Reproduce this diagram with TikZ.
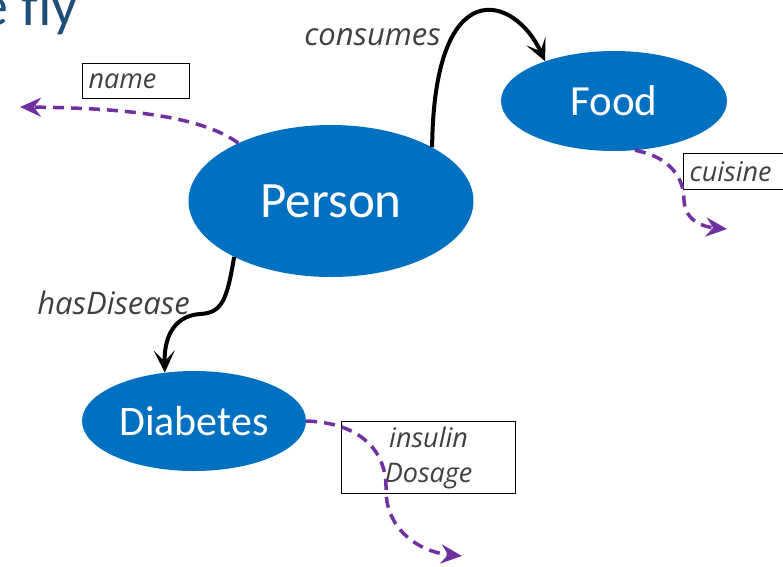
\documentclass[tikz,border=0pt]{standalone}
\usepackage{fontspec}
\setmainfont{Carlito}
\newfontfamily\labelfont{Open Sans}
\usetikzlibrary{shapes.geometric,arrows.meta}
\definecolor{conceptblue}{RGB}{0,112,192}
\definecolor{attrpurple}{RGB}{112,48,160}
\definecolor{labelgrey}{RGB}{64,64,64}
\definecolor{titleblue}{RGB}{31,78,121}

\begin{document}
\begin{tikzpicture}[x=1pt,y=1pt,yscale=-1,
  concept/.style={ellipse, fill=conceptblue, text=white, inner sep=0pt},
  attrbox/.style={draw=black, line width=1.2pt, text=labelgrey, inner ysep=0pt, font=\labelfont\itshape\fontsize{27}{35}\selectfont},
  rellabel/.style={text=labelgrey, inner sep=0pt, font=\labelfont\itshape\fontsize{31}{35}\selectfont},
  relarrow/.style={line width=4pt, -{Stealth[length=22pt,width=21pt,inset=11pt]}},
  attrarrow/.style={attrpurple, line width=3.5pt, dash pattern=on 11pt off 7pt, -{Stealth[length=21pt,width=19pt,inset=7pt]}}
]
\useasboundingbox (0,0) rectangle (783,566);

% Title (cut off)
\node [anchor=base west, inner sep=0pt, text=titleblue, font=\fontsize{58}{62}\selectfont] (title) at (-21,25) {e fly};

%Shape: Ellipse
\node [concept, minimum width=285, minimum height=152, font=\fontsize{51}{55}\selectfont] (person) at (331,201) {Person};
%Shape: Ellipse
\node [concept, minimum width=226, minimum height=100, font=\fontsize{43}{47}\selectfont] (food) at (614,101) {Food};
%Shape: Ellipse
\node [concept, minimum width=224, minimum height=100, font=\fontsize{42}{46}\selectfont] (diabetes) at (194,421) {Diabetes};

%Shape: Rectangle
\node [attrbox, anchor=north west, minimum height=35, text width=95, inner xsep=6pt, align=left] (name) at (82,63) {name};
\node [attrbox, anchor=north west, minimum height=36, text width=104, inner xsep=6pt, align=left] (cuisine) at (683,153) {cuisine};
\node [attrbox, anchor=north west, minimum height=72, minimum width=174, align=center] (dosage) at (341,421) {insulin\\Dosage};

% Free ends
\coordinate (nameend) at (20,107);
\coordinate (cuisineend) at (727,229);
\coordinate (dosageend) at (462,556);

%Curve Lines
\draw [relarrow] (person.28) .. controls (434,-30) and (515,-5) .. (food.150);
\draw [relarrow] (person.210) .. controls (227,300) and (222,313) .. (200,314) .. controls (172,316) and (164,340) .. (diabetes.121);
\draw [attrarrow] (person.148) .. controls (200,115) and (120,108) .. (nameend);
\draw [attrarrow] (food.293) .. controls (672,157) and (684,180) .. (684,200) .. controls (685,222) and (705,227) .. (cuisineend);
\draw [attrarrow] (diabetes.east) .. controls (362,423) and (387,452) .. (386,490) .. controls (386,530) and (420,552) .. (dosageend);

% Text Node
\node [rellabel, anchor=base east] (consumes) at (441,45) {consumes};
% Text Node
\node [rellabel, anchor=base east] (hasdisease) at (190,314) {hasDisease};

\end{tikzpicture}
\end{document}
